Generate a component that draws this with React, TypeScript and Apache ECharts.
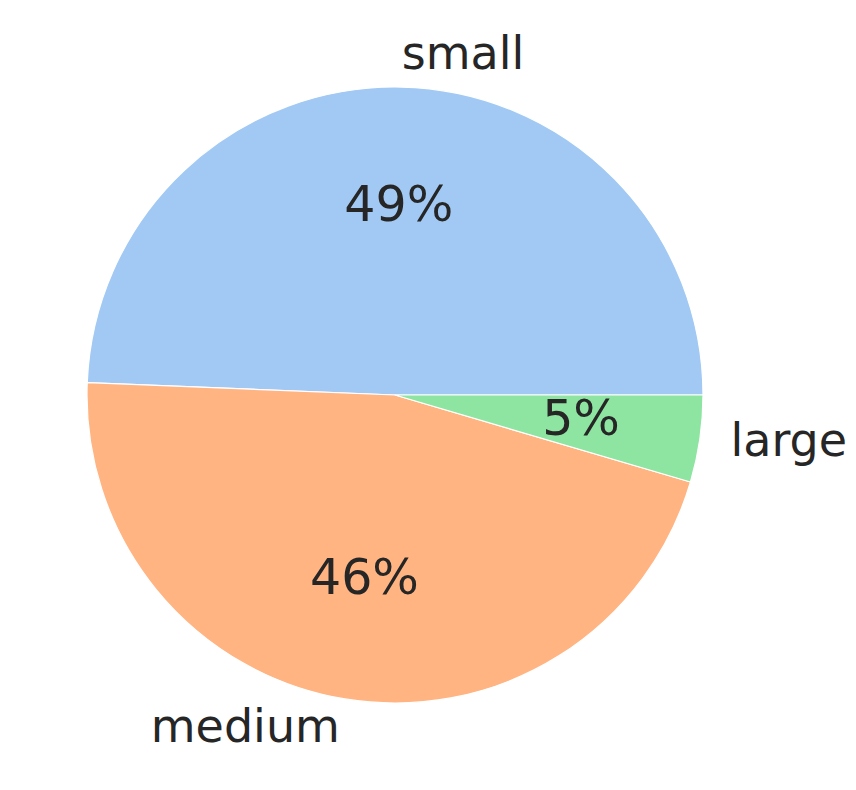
import React, { useEffect, useRef } from "react";
import * as echarts from "echarts";

const categories = ["small", "medium", "large"];
const values = [49.36, 46.08, 4.56];
const colors = ["#a1c9f4", "#ffb482", "#8de5a1"];

export default function App() {
  const ref = useRef<HTMLDivElement>(null);
  useEffect(() => {
    if (!ref.current) return;
    const chart = echarts.init(ref.current, undefined, { renderer: "svg" });
    const data = categories.map((c, i) => ({
      name: c,
      value: values[i],
      itemStyle: { color: colors[i] },
    }));
    chart.setOption({
      animation: false,
      backgroundColor: "#ffffff",
      series: [
        {
          type: "pie",
          center: [395, 395],
          radius: [0, 308],
          startAngle: 0,
          clockwise: false,
          avoidLabelOverlap: false,
          silent: true,
          data,
          itemStyle: { borderColor: "#ffffff", borderWidth: 1.2 },
          label: {
            show: true,
            position: "outside",
            formatter: "{b}",
            distanceToLabelLine: 0,
            verticalAlign: "middle",
            offset: [0, -3],
            fontFamily: "DejaVu Sans",
            fontSize: 46,
            color: "#262626",
          },
          labelLine: { show: false, length: 31, length2: 0 },
          emphasis: { disabled: true },
        },
        {
          type: "pie",
          center: [395, 395],
          radius: [0, 370],
          startAngle: 0,
          clockwise: false,
          avoidLabelOverlap: false,
          silent: true,
          data: data.map((d) => ({ name: d.name, value: d.value })),
          itemStyle: { color: "rgba(0,0,0,0)", borderWidth: 0 },
          label: {
            show: true,
            position: "inside",
            formatter: (p: any) => Math.round(p.percent) + "%",
            verticalAlign: "middle",
            offset: [0, -3],
            fontFamily: "DejaVu Sans",
            fontSize: 49,
            color: "#262626",
          },
          labelLine: { show: false },
          emphasis: { disabled: true },
        },
      ],
    });
    return () => chart.dispose();
  }, []);
  return (
    <div
      ref={ref}
      style={{ position: "absolute", left: 0, top: 0, width: 856, height: 790 }}
    />
  );
}
